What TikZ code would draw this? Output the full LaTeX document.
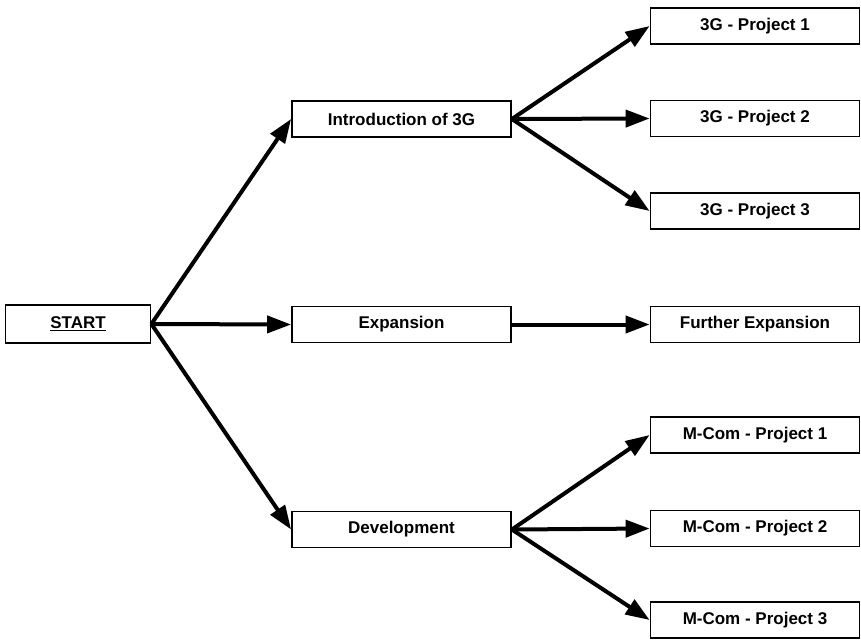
\documentclass[tikz,border=0pt]{standalone}
\usepackage{fontspec}
\setmainfont{Liberation Sans}
\usetikzlibrary{arrows.meta}
\begin{document}
\begin{tikzpicture}[x=1pt,y=-1pt,
  box/.style={draw,line width=1.8pt,rectangle,inner sep=0pt,
    font=\fontsize{17}{19}\selectfont\bfseries},
  midbox/.style={box,minimum width=219pt,minimum height=36pt},
  leafbox/.style={box,minimum width=209pt,minimum height=36pt},
  link/.style={line width=4pt,-{Triangle[length=24pt,width=17pt]}}]
  \useasboundingbox (0,0) rectangle (861,640);

  % root
  \node[box,minimum width=145pt,minimum height=38pt] (start) at (78,324) {\underline{START}};

  % second level
  \node[midbox] (intro) at (401.5,119) {Introduction of 3G};
  \node[midbox] (expan) at (401.5,324.5) {Expansion};
  \node[midbox] (devel) at (401.5,529.5) {Development};

  % leaves
  \node[leafbox] (p1) at (755,26) {3G - Project 1};
  \node[leafbox] (p2) at (755,118.5) {3G - Project 2};
  \node[leafbox] (p3) at (755,211) {3G - Project 3};
  \node[leafbox] (fe) at (755,324.5) {Further Expansion};
  \node[leafbox] (m1) at (755,435) {M-Com - Project 1};
  \node[leafbox] (m2) at (755,528.5) {M-Com - Project 2};
  \node[leafbox] (m3) at (755,620) {M-Com - Project 3};

  % connectors
  \draw[link] (start.east) -- (intro.west);
  \draw[link] (start.east) -- (expan.west);
  \draw[link] (start.east) -- (devel.west);
  \draw[link] (intro.east) -- (p1.west);
  \draw[link] (intro.east) -- (p2.west);
  \draw[link] (intro.east) -- (p3.west);
  \draw[link] (expan.east) -- (fe.west);
  \draw[link] (devel.east) -- (m1.west);
  \draw[link] (devel.east) -- (m2.west);
  \draw[link] (devel.east) -- (m3.west);
\end{tikzpicture}
\end{document}
